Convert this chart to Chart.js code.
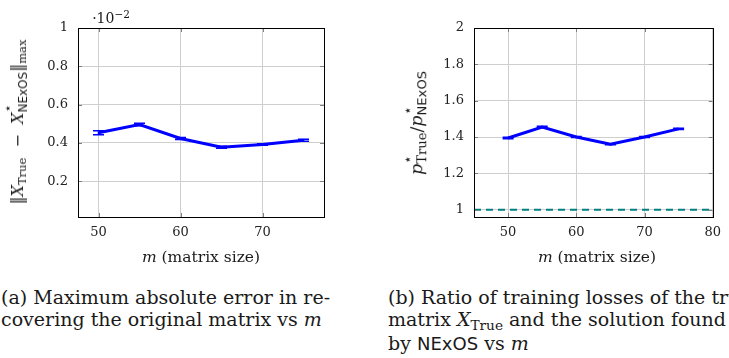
<!DOCTYPE html>
<html>
<head>
<meta charset="utf-8">
<script src="https://cdn.jsdelivr.net/npm/chart.js@4.4.1/dist/chart.umd.min.js"></script>
<style>
  body { margin: 0; width: 729px; height: 358px; overflow: hidden; background: #fff; position: relative;
         font-family: "DejaVu Serif", serif; color: #1a1a1a; }
  .box { position: absolute; top: 0; height: 270px; }
  .lbl { position: absolute; white-space: nowrap; transform: translate(-50%, -50%); font-size: 15.5px; line-height: 1; }
  .rot { transform: translate(-50%, -50%) rotate(-90deg); font-size: 16px; }
  .sans { font-family: "DejaVu Sans", sans-serif; font-size: 0.9em; }
  .st { display: inline-block; position: relative; }
  .st .up { position: absolute; left: 0; top: -0.6em; font-size: 0.8em; }
  .st .dn { position: relative; top: 0.3em; font-size: 0.75em; }
  sub { font-size: 0.72em; vertical-align: baseline; position: relative; top: 0.3em; }
  .cap { position: absolute; top: 286px; font-size: 19px; line-height: 22px; white-space: nowrap; }
</style>
</head>
<body>
<div class="box" style="left:0;width:364px"><canvas id="chartA" width="364" height="270"></canvas></div>
<div class="box" style="left:364px;width:365px"><canvas id="chartB" width="365" height="270"></canvas></div>

<div class="lbl" style="left:111px;top:17px;font-size:14px">·10<sup style="font-size:0.75em">−2</sup></div>
<div class="lbl rot" style="left:18px;top:122px">‖<i>X</i><sub>True</sub> &nbsp;−&nbsp; <i>X</i><span class="st"><span class="up">⋆</span><span class="dn sans">NExOS</span></span>‖<sub>max</sub></div>
<div class="lbl rot" style="left:417px;top:123px;font-size:17.5px"><i>p</i><span class="st"><span class="up">⋆</span><span class="dn">True</span></span>/<i>p</i><span class="st"><span class="up">⋆</span><span class="dn sans">NExOS</span></span></div>
<div class="lbl" style="left:201px;top:258px"><i>m</i> (matrix size)</div>
<div class="lbl" style="left:597px;top:258px"><i>m</i> (matrix size)</div>

<div class="cap" style="left:1px">(a) Maximum absolute error in re-<br>covering the original matrix vs <i>m</i></div>
<div class="cap" style="left:388px">(b) Ratio of training losses of the true<br>matrix <i>X</i><sub>True</sub> and the solution found<br>by <span style="font-family:'DejaVu Sans',sans-serif;font-size:0.95em">NExOS</span> vs <i>m</i></div>

<script>
// matrix sizes and measured values
const sizes = [50, 55, 60, 65, 70, 75];
const maxErr = [0.453, 0.496, 0.423, 0.377, 0.392, 0.414];   // x 10^-2
const maxErrBar = [0.010, 0.007, 0.005, 0.005, 0.004, 0.005];
const lossRatio = [1.395, 1.455, 1.400, 1.360, 1.400, 1.445];
const lossRatioBar = [0.004, 0.004, 0.003, 0.003, 0.003, 0.004];
const baselineX = [45, 80];
const baselineY = [1, 1];

const xTicksA = [50, 60, 70];
const yTicksA = [0.2, 0.4, 0.6, 0.8, 1];
const xTicksB = [50, 60, 70, 80];
const yTicksB = [1, 1.2, 1.4, 1.6, 1.8, 2];

const BLUE = '#0000ff';
const TEAL = '#008080';
const GRID = '#cfcfcf';
const tickFont = { family: 'DejaVu Serif', size: 13 };

const pts = (xs, ys) => xs.map((x, i) => ({ x: x, y: ys[i] }));

// black frame + short inner tick marks like pgfplots
const framePlugin = {
    id: 'frame',
    afterDraw(chart) {
        const { ctx, chartArea: a, scales } = chart;
        ctx.save();
        ctx.strokeStyle = '#808080';
        ctx.lineWidth = 1;
        ctx.beginPath();
        scales.x.ticks.forEach(t => {
            const px = Math.round(scales.x.getPixelForValue(t.value)) + 0.5;
            ctx.moveTo(px, a.bottom); ctx.lineTo(px, a.bottom - 4);
            ctx.moveTo(px, a.top); ctx.lineTo(px, a.top + 4);
        });
        scales.y.ticks.forEach(t => {
            const py = Math.round(scales.y.getPixelForValue(t.value)) + 0.5;
            ctx.moveTo(a.left, py); ctx.lineTo(a.left + 4, py);
            ctx.moveTo(a.right, py); ctx.lineTo(a.right - 4, py);
        });
        ctx.stroke();
        ctx.strokeStyle = '#000';
        ctx.strokeRect(Math.round(a.left) + 0.5, Math.round(a.top) + 0.5,
                       Math.round(a.right - a.left), Math.round(a.bottom - a.top));
        ctx.restore();
    }
};

// vertical error bars with caps, read from dataset.errors
const errorBarPlugin = {
    id: 'errbars',
    afterDatasetsDraw(chart) {
        const { ctx, scales } = chart;
        ctx.save();
        chart.data.datasets.forEach(ds => {
            if (!ds.errors) return;
            ctx.strokeStyle = ds.borderColor;
            ctx.lineWidth = 1.5;
            ds.data.forEach((p, i) => {
                const px = scales.x.getPixelForValue(p.x);
                const y1 = scales.y.getPixelForValue(p.y - ds.errors[i]);
                const y2 = scales.y.getPixelForValue(p.y + ds.errors[i]);
                ctx.beginPath();
                ctx.moveTo(px, y1); ctx.lineTo(px, y2);
                ctx.moveTo(px - 5.5, y1); ctx.lineTo(px + 5.5, y1);
                ctx.moveTo(px - 5.5, y2); ctx.lineTo(px + 5.5, y2);
                ctx.stroke();
            });
        });
        ctx.restore();
    }
};

function makeScales(xr, yr, xTicks, yTicks, yWidth) {
    return {
        x: {
            type: 'linear', min: xr[0], max: xr[1],
            afterBuildTicks: s => { s.ticks = xTicks.map(v => ({ value: v })); },
            afterFit: s => { s.height = 53; },
            grid: { color: GRID, drawTicks: false },
            border: { display: false },
            ticks: { font: tickFont, color: '#222', padding: 8, maxRotation: 0, callback: v => String(v) }
        },
        y: {
            type: 'linear', min: yr[0], max: yr[1],
            afterBuildTicks: s => { s.ticks = yTicks.map(v => ({ value: v })); },
            afterFit: s => { s.width = yWidth; },
            grid: { color: GRID, drawTicks: false },
            border: { display: false },
            ticks: { font: tickFont, color: '#222', padding: 10, callback: v => String(v) }
        }
    };
}

const commonPlugins = { legend: { display: false }, tooltip: { enabled: false } };

new Chart(document.getElementById('chartA').getContext('2d'), {
    type: 'line',
    data: {
        datasets: [{
            data: pts(sizes, maxErr),
            errors: maxErrBar,
            borderColor: BLUE,
            borderWidth: 3,
            pointRadius: 0,
            tension: 0
        }]
    },
    options: {
        responsive: false,
        animation: false,
        devicePixelRatio: 1,
        layout: { padding: { top: 28, right: 40, left: 0, bottom: 0 } },
        scales: makeScales([47.5, 77.5], [0.013, 1], xTicksA, yTicksA, 78),
        plugins: commonPlugins
    },
    plugins: [framePlugin, errorBarPlugin]
});

new Chart(document.getElementById('chartB').getContext('2d'), {
    type: 'line',
    data: {
        datasets: [{
            data: pts(sizes, lossRatio),
            errors: lossRatioBar,
            borderColor: BLUE,
            borderWidth: 3,
            pointRadius: 0,
            tension: 0
        }, {
            data: pts(baselineX, baselineY),
            borderColor: TEAL,
            borderWidth: 2,
            borderDash: [7, 5],
            pointRadius: 0
        }]
    },
    options: {
        responsive: false,
        animation: false,
        devicePixelRatio: 1,
        layout: { padding: { top: 28, right: 9, left: 0, bottom: 0 } },
        scales: makeScales([45, 80], [0.96, 2], xTicksB, yTicksB, 110),
        plugins: commonPlugins
    },
    plugins: [framePlugin, errorBarPlugin]
});
</script>
</body>
</html>
